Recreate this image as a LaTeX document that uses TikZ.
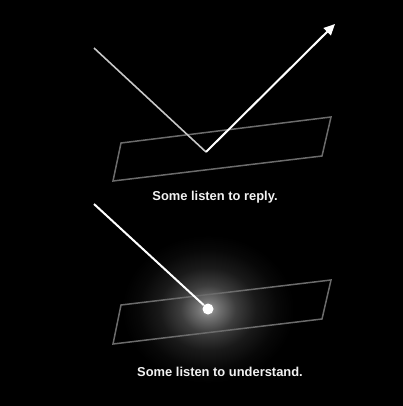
\documentclass[tikz,border=0pt]{standalone}
\usepackage{fontspec}
\setmainfont{Liberation Sans}
\usetikzlibrary{arrows.meta}
\pgfdeclareradialshading{glow}{\pgfpoint{0bp}{0bp}}{color(0bp)=(white!62!black); color(3bp)=(white!45!black); color(8bp)=(white!24!black); color(14bp)=(white!10!black); color(20bp)=(white!3!black); color(25bp)=(black); color(50bp)=(black)}
\begin{document}
\begin{tikzpicture}[x=1pt,y=-1pt,
  plane/.style={draw=white!42!black,line width=1.5pt,line join=miter},
  ray/.style={draw=white,line width=2pt},
  grayray/.style={draw=white!78!black,line width=1.6pt},
  caption/.style={text=white!95!black,font=\bfseries\fontsize{12.9}{14}\selectfont,inner sep=0pt}]
\fill[black] (0,0) rectangle (403,406);
\useasboundingbox (0,0) rectangle (403,406);
% top panel
\coordinate (s1) at (94,48);
\coordinate (v) at (206,152);
\coordinate (tip) at (335,24);
\draw[plane] (121,143) -- (331,117) -- (322,156) -- (113,181) -- cycle;
\draw[grayray] (s1) -- (v);
\draw[ray,-{Triangle[length=11pt,width=10pt]}] (v) -- (tip);
\node[caption] (c1) at (215,197) {Some listen to reply.};
% bottom panel
\shade[shading=glow] (208,309) ellipse (86pt and 74pt);
\draw[plane] (121,305) -- (331,280) -- (322,319) -- (113,344) -- cycle;
\coordinate (s2) at (94,204);
\node[circle,fill=white,minimum size=11pt,inner sep=0pt] (dot) at (208,309) {};
\draw[ray] (s2) -- (dot);
\node[caption] (c2) at (220,372) {Some listen to understand.};
\end{tikzpicture}
\end{document}
